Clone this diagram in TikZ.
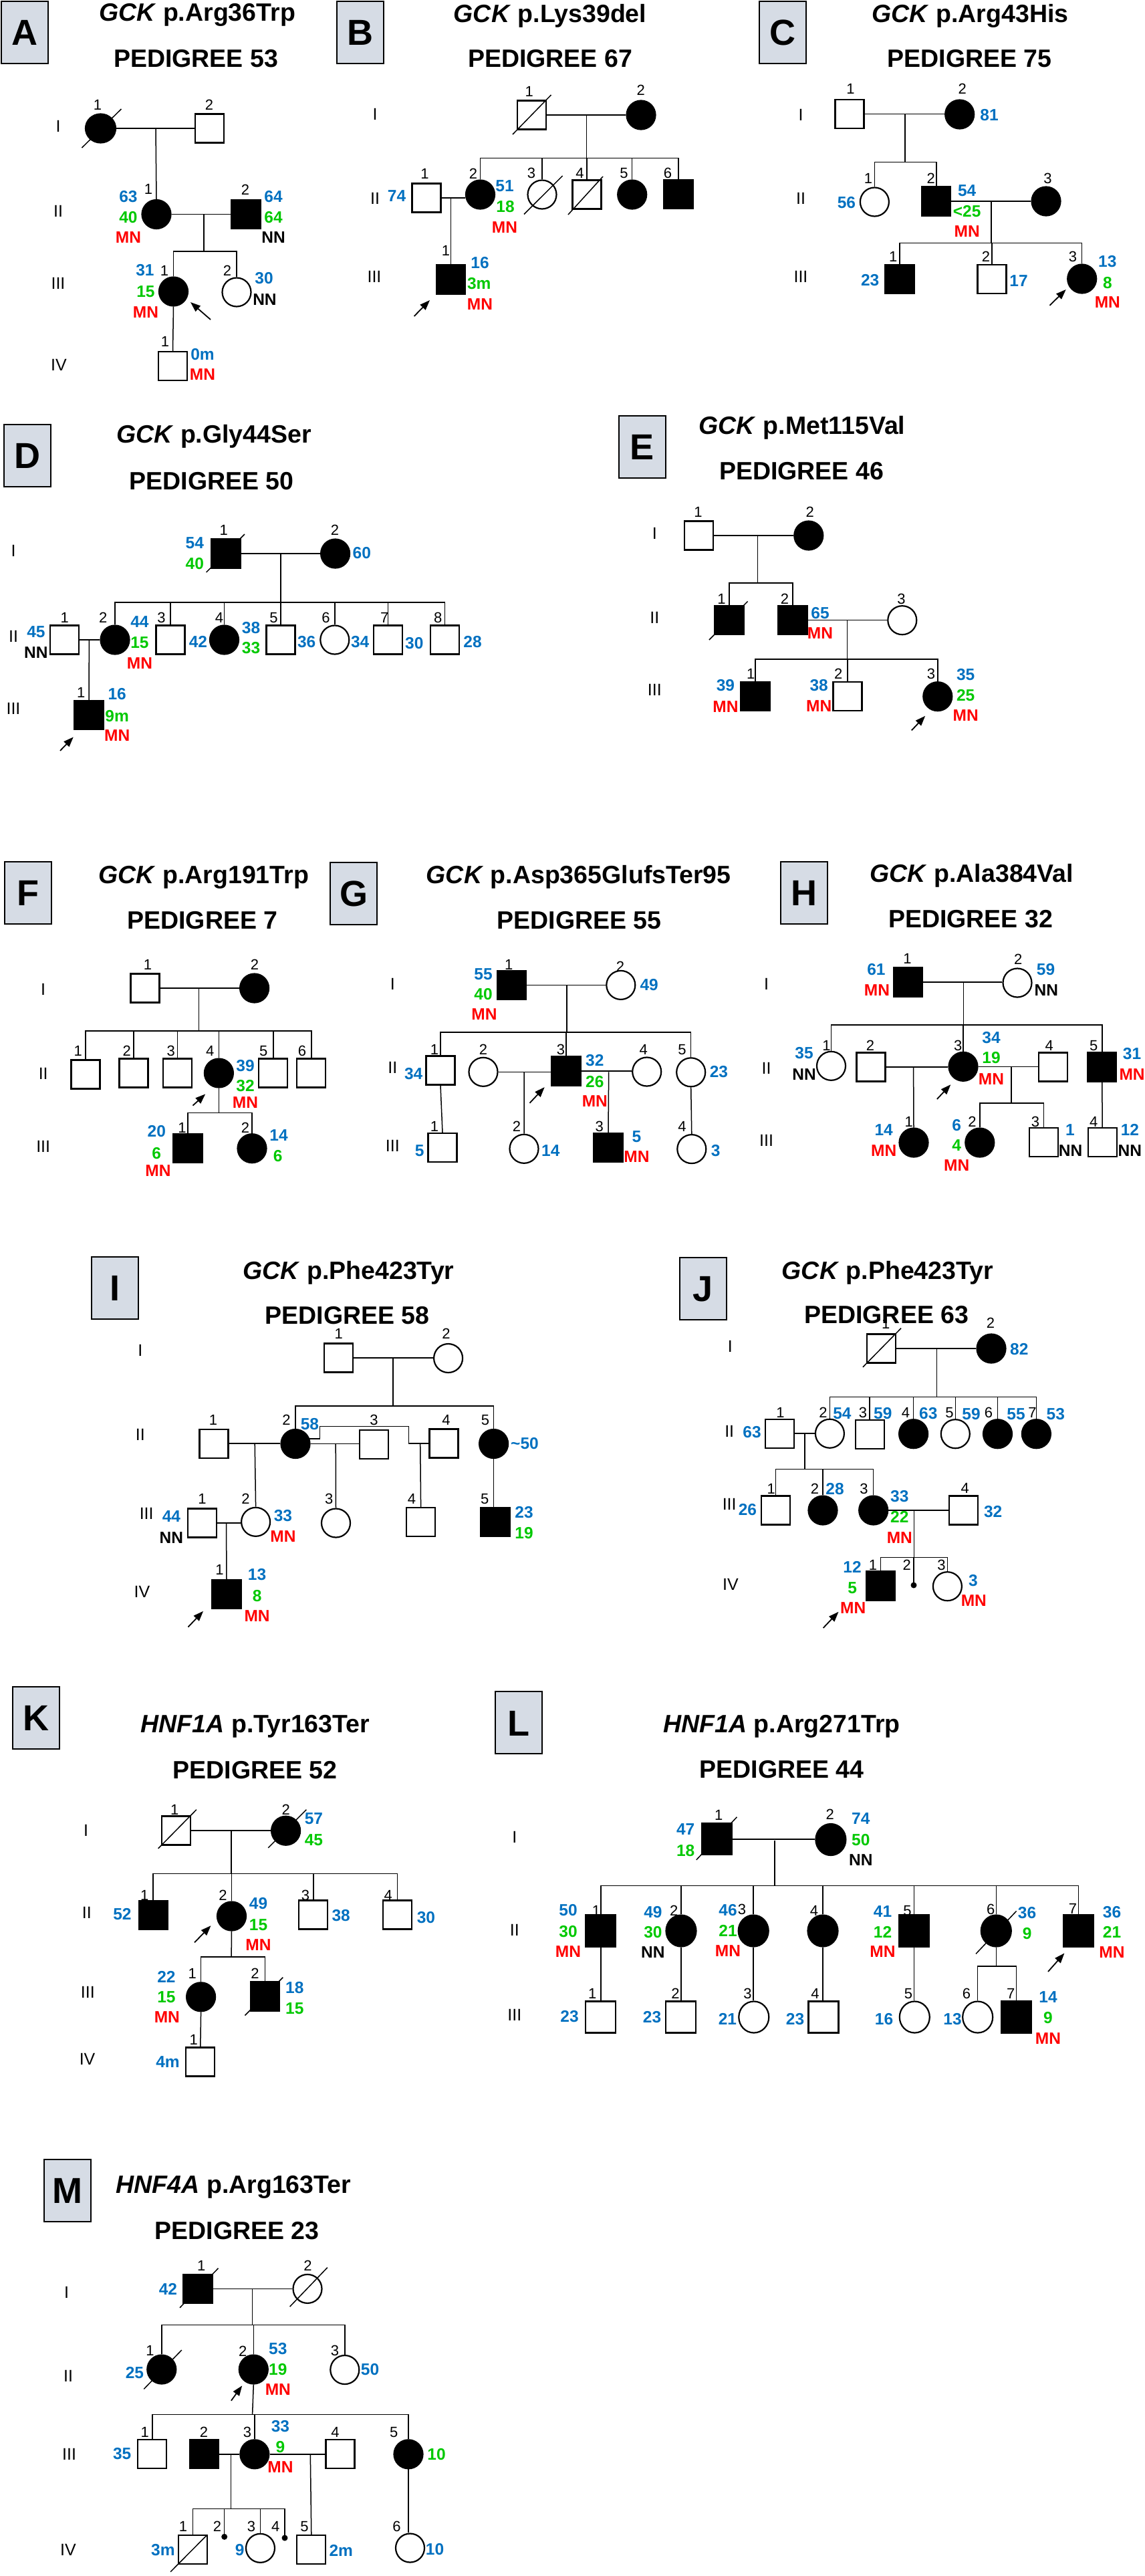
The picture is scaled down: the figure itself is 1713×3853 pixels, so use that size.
\documentclass[tikz,border=0pt]{standalone}
\usepackage{fontspec}
\setmainfont{Liberation Sans}
\usetikzlibrary{shapes.geometric,arrows.meta}
\definecolor{mblue}{RGB}{0,112,192}
\definecolor{mgreen}{RGB}{0,200,0}
\definecolor{mred}{RGB}{255,0,0}
\definecolor{boxgray}{RGB}{214,220,229}
\tikzset{
  sq/.style={draw,line width=2.2pt,fill=white,minimum width=43pt,minimum height=43pt,inner sep=0pt},
  sqa/.style={sq,fill=black},
  ci/.style={ellipse,draw,line width=2.2pt,fill=white,minimum width=43pt,minimum height=43pt,inner sep=0pt},
  cia/.style={ci,fill=black},
  sab/.style={circle,fill=black,minimum size=9pt,inner sep=0pt},
  ln/.style={line width=1.5pt},
  slash/.style={line width=1.5pt},
  pro/.style={line width=1.8pt,-{Triangle[length=15pt,width=11pt]}},
  nr/.style={inner sep=0pt,font=\fontsize{22}{22}\selectfont,text height=16pt,text depth=0pt},
  gen/.style={inner sep=0pt,font=\fontsize{25}{25}\selectfont,text height=18pt,text depth=0pt},
  vb/.style={inner sep=0pt,font=\bfseries\fontsize{24.5}{24.5}\selectfont,text height=17.5pt,text depth=0pt,text=mblue},
  vg/.style={vb,text=mgreen},
  vr/.style={vb,text=mred},
  vk/.style={vb,text=black},
  ttl/.style={inner sep=0pt,font=\bfseries\fontsize{37.5}{37.5}\selectfont,text height=27pt,text depth=0pt},
  lbox/.style={draw,line width=2pt,fill=boxgray,minimum width=70pt,minimum height=93pt,inner sep=0pt,text height=38.5pt,text depth=0pt,font=\bfseries\fontsize{54}{54}\selectfont},
}
\begin{document}
\begin{tikzpicture}[x=1pt,y=-1pt]
\useasboundingbox (0,0) rectangle (1713,3853);

\node[lbox] (boxA) at (37,48.5) {A};
\node[ttl] (tA1) at (295,18.4) {\textit{GCK} p.Arg36Trp};
\node[ttl] (tA2) at (293,87) {PEDIGREE 53};
\node[gen] (aG1) at (87,188) {I};
\node[gen] (aG2) at (87,315) {II};
\node[gen] (aG3) at (87,423) {III};
\node[gen] (aG4) at (88,545) {IV};
\node[cia,minimum width=45pt] (aI1) at (150.5,192) {};
\node[sq] (aI2) at (313.5,192) {};
\node[cia] (aII1) at (234,320.5) {};
\node[sqa] (aII2) at (368,320.5) {};
\node[cia] (aIII1) at (259.5,436) {};
\node[ci] (aIII2) at (354,437) {};
\node[sq] (aIV1) at (258.5,547.5) {};
\node[nr] (aI1n) at (146,156) {1};
\node[nr] (aI2n) at (313,156) {2};
\node[nr] (aII1n) at (222,282) {1};
\node[nr] (aII2n) at (367,283) {2};
\node[nr] (aIII1n) at (246,404) {1};
\node[nr] (aIII2n) at (340,404) {2};
\node[nr] (aIV1n) at (247,510) {1};
\node[vb] (aII1b) at (192,294) {63};
\node[vg] (aII1g) at (192,325) {40};
\node[vr] (aII1r) at (192,355) {MN};
\node[vb] (aII2b) at (409,294) {64};
\node[vg] (aII2g) at (409,325) {64};
\node[vk] (aII2k) at (409,355) {NN};
\node[vb] (aIII1b) at (217,404) {31};
\node[vg] (aIII1g) at (218,436) {15};
\node[vr] (aIII1r) at (218,467) {MN};
\node[vb] (aIII2b) at (395,416) {30};
\node[vk] (aIII2k) at (396,448) {NN};
\node[vb] (aIV1b) at (303,530) {0m};
\node[vr] (aIV1r) at (303,560) {MN};
\coordinate (aM1) at (233,192);
\coordinate (aM2) at (305,320.5);
\coordinate (aS2) at (305,376);
\coordinate (aP0) at (315,478);
\coordinate (aP1) at (285,452);
\draw[slash] (aI1.center) +(-28,29) -- +(31,-29);
\draw[ln] (aI1.east) -- (aI1.east -| aI2.west);
\draw[ln] (aM1) -- (aII1.north);
\draw[ln] (aII1.east) -- (aII1.east -| aII2.west);
\draw[ln] (aM2) -- (aS2);
\draw[ln] (aIII1.north) |- (aS2) -| (aIII2.north);
\draw[ln] (aIII1.south) -- (aIV1.north);
\draw[pro] (aP0) -- (aP1);

\node[lbox] (boxB) at (539,48) {B};
\node[ttl] (tB1) at (823,19.5) {\textit{GCK} p.Lys39del};
\node[ttl] (tB2) at (823,87) {PEDIGREE 67};
\node[gen] (bG1) at (561,170) {I};
\node[gen] (bG2) at (561,296) {II};
\node[gen] (bG3) at (560,413) {III};
\node[sq] (bI1) at (795.5,172) {};
\node[cia] (bI2) at (959,172) {};
\node[sq] (bII1) at (638,296) {};
\node[cia] (bII2) at (718.5,291) {};
\node[ci] (bII3) at (811,291) {};
\node[sq] (bII4) at (878,291) {};
\node[cia] (bII5) at (945.7,291) {};
\node[sqa] (bII6) at (1015,290.5) {};
\node[sqa] (bIII1) at (674.7,418) {};
\node[nr] (bI1n) at (791.7,136) {1};
\node[nr] (bI2n) at (958.7,134.5) {2};
\node[nr] (bII1n) at (635.6,259.4) {1};
\node[nr] (bII2n) at (708,259) {2};
\node[nr] (bII3n) at (795,258.5) {3};
\node[nr] (bII4n) at (867.6,258.5) {4};
\node[nr] (bII5n) at (933.5,258.5) {5};
\node[nr] (bII6n) at (999,258.5) {6};
\node[nr] (bIII1n) at (667,374) {1};
\node[vb] (bII1b) at (593.6,292.5) {74};
\node[vb] (bII2b) at (755,277.8) {51};
\node[vg] (bII2g) at (756,308.5) {18};
\node[vr] (bII2r) at (755,339.8) {MN};
\node[vb] (bIII1b) at (718,392.6) {16};
\node[vg] (bIII1g) at (716.7,423.3) {3m};
\node[vr] (bIII1r) at (718,454.5) {MN};
\coordinate (bM1) at (877.6,172);
\coordinate (bS1) at (877.6,236.5);
\coordinate (bM2) at (674.7,296);
\coordinate (bP0) at (619.6,473);
\coordinate (bP1) at (643,449);
\draw[slash] (bI1.center) +(-28.5,29) -- +(29,-30);
\draw[slash] (bII3.center) +(-27,29.5) -- +(30.6,-28);
\draw[slash] (bII4.center) +(-28,30) -- +(24,-27);
\draw[ln] (bI1.east) -- (bI1.east -| bI2.west);
\draw[ln] (bM1) -- (bS1);
\draw[ln] (bII2.north) |- (bS1) -| (bII6.north);
\foreach \p in {bII3,bII4,bII5} \draw[ln] (\p.north) -- (\p.north |- bS1);
\draw[ln] (bII1.east) -- (bII1.east -| bII2.west);
\draw[ln] (bM2) -- (bIII1.north);
\draw[pro] (bP0) -- (bP1);

\node[lbox] (boxC) at (1171,48.5) {C};
\node[ttl] (tC1) at (1451.5,19.5) {\textit{GCK} p.Arg43His};
\node[ttl] (tC2) at (1450.6,87) {PEDIGREE 75};
\node[gen] (cG1) at (1198,171) {I};
\node[gen] (cG2) at (1198,296) {II};
\node[gen] (cG3) at (1198,413) {III};
\node[sq] (cI1) at (1271,170.5) {};
\node[cia] (cI2) at (1435.7,171) {};
\node[ci] (cII1) at (1308.4,302) {};
\node[sqa] (cII2) at (1400.8,301) {};
\node[cia] (cII3) at (1565,301) {};
\node[sqa] (cIII1) at (1346,417.6) {};
\node[sq] (cIII2) at (1484,417.6) {};
\node[cia] (cIII3) at (1618.7,417) {};
\node[nr] (cI1n) at (1272.4,132) {1};
\node[nr] (cI2n) at (1439.7,132) {2};
\node[nr] (cII1n) at (1299,266.3) {1};
\node[nr] (cII2n) at (1392.8,266) {2};
\node[nr] (cII3n) at (1567.5,266) {3};
\node[nr] (cIII1n) at (1336.3,383.4) {1};
\node[nr] (cIII2n) at (1475,383.4) {2};
\node[nr] (cIII3n) at (1605,383.4) {3};
\node[vb] (cI2b) at (1480,172) {81};
\node[vb] (cII1b) at (1266.4,303) {56};
\node[vb] (cII2b) at (1446.7,284.7) {54};
\node[vg] (cII2g) at (1446.7,316) {<25};
\node[vr] (cII2r) at (1446.7,345.7) {MN};
\node[vb] (cIII1b) at (1301.7,418.7) {23};
\node[vb] (cIII2b) at (1524,420) {17};
\node[vb] (cIII3b) at (1656.8,391) {13};
\node[vg] (cIII3g) at (1656.8,422.4) {8};
\node[vr] (cIII3r) at (1656.8,452) {MN};
\coordinate (cM1) at (1353.8,171);
\coordinate (cS1) at (1353.8,242.4);
\coordinate (cM2) at (1483.2,301);
\coordinate (cS2) at (1483.2,363.6);
\coordinate (cP0) at (1570.5,456.8);
\coordinate (cP1) at (1594.7,433);
\draw[ln] (cI1.east) -- (cI1.east -| cI2.west);
\draw[ln] (cM1) -- (cS1);
\draw[ln] (cII1.north) |- (cS1) -| (cII2.north);
\draw[ln] (cII2.east) -- (cII2.east -| cII3.west);
\draw[ln] (cM2) -- (cS2);
\draw[ln] (cIII1.north) |- (cS2) -| (cIII3.north);
\draw[ln] (cIII2.north) -- (cIII2.north |- cS2);
\draw[pro] (cP0) -- (cP1);

\node[lbox] (boxD) at (40.5,681.5) {D};
\node[ttl] (tD1) at (320,648.5) {\textit{GCK} p.Gly44Ser};
\node[ttl] (tD2) at (316.5,718.8) {PEDIGREE 50};
\node[gen] (dG1) at (20,823.6) {I};
\node[gen] (dG2) at (20,951.5) {II};
\node[gen] (dG3) at (20,1059) {III};
\node[sqa] (dI1) at (338,828) {};
\node[cia] (dI2) at (501.6,828) {};
\node[sq] (dII1) at (96.8,957) {};
\node[cia] (dII2) at (172,957) {};
\node[sq] (dII3) at (255,957) {};
\node[cia] (dII4) at (335.5,957) {};
\node[sq] (dII5) at (420,957) {};
\node[ci] (dII6) at (500.8,957) {};
\node[sq] (dII7) at (580.5,957) {};
\node[sq] (dII8) at (665.5,957) {};
\node[sqa] (dIII1) at (133,1069.6) {};
\node[nr] (dI1n) at (334.7,792.4) {1};
\node[nr] (dI2n) at (501,792.4) {2};
\node[nr] (dII1n) at (96.8,923.3) {1};
\node[nr] (dII2n) at (154.3,923.3) {2};
\node[nr] (dII3n) at (241.6,923.3) {3};
\node[nr] (dII4n) at (328,923.3) {4};
\node[nr] (dII5n) at (409.5,923.3) {5};
\node[nr] (dII6n) at (487.4,923.3) {6};
\node[nr] (dII7n) at (575.3,923.3) {7};
\node[nr] (dII8n) at (655.3,923.3) {8};
\node[nr] (dIII1n) at (121.3,1035.2) {1};
\node[vb] (dI1b) at (291.3,812) {54};
\node[vg] (dI1g) at (291.3,843) {40};
\node[vb] (dI2b) at (541.3,826.6) {60};
\node[vb] (dII1b) at (53.9,945) {45};
\node[vk] (dII1k) at (53.9,975.4) {NN};
\node[vb] (dII2b) at (209,929.8) {44};
\node[vg] (dII2g) at (209,961) {15};
\node[vr] (dII2r) at (209,991.4) {MN};
\node[vb] (dII3b) at (296.5,959.3) {42};
\node[vb] (dII4b) at (375.5,938.5) {38};
\node[vg] (dII4g) at (375.5,968.9) {33};
\node[vb] (dII5b) at (458.7,960.2) {36};
\node[vb] (dII6b) at (538.7,960.2) {34};
\node[vb] (dII7b) at (619.8,961.5) {30};
\node[vb] (dII8b) at (707.1,960.2) {28};
\node[vb] (dIII1b) at (175.2,1038.2) {16};
\node[vg] (dIII1g) at (175.2,1070.8) {9m};
\node[vr] (dIII1r) at (175.2,1099.8) {MN};
\coordinate (dM1) at (420,828);
\coordinate (dS1) at (420,900.8);
\coordinate (dM2) at (133.4,957);
\coordinate (dP0) at (90,1122.8);
\coordinate (dP1) at (109.8,1102.4);
\draw[slash] (dI1.center) +(-29.4,28) -- +(28,-29);
\draw[ln] (dI1.east) -- (dI1.east -| dI2.west);
\draw[ln] (dM1) -- (dS1);
\draw[ln] (dII2.north) |- (dS1) -| (dII8.north);
\foreach \p in {dII3,dII4,dII5,dII6,dII7} \draw[ln] (\p.north) -- (\p.north |- dS1);
\draw[ln] (dII1.east) -- (dII1.east -| dII2.west);
\draw[ln] (dM2) -- (dIII1.north);
\draw[pro] (dP0) -- (dP1);

\node[lbox] (boxE) at (960.5,668.5) {E};
\node[ttl] (tE1) at (1200,636) {\textit{GCK} p.Met115Val};
\node[ttl] (tE2) at (1199,704) {PEDIGREE 46};
\node[gen] (eG1) at (979.4,797.6) {I};
\node[gen] (eG2) at (979.4,923.3) {II};
\node[gen] (eG3) at (979.4,1031.7) {III};
\node[sq] (eI1) at (1045.5,801) {};
\node[cia] (eI2) at (1209.8,801) {};
\node[sqa] (eII1) at (1091,927.7) {};
\node[sqa] (eII2) at (1186,927.7) {};
\node[ci] (eII3) at (1349.8,927.7) {};
\node[sqa] (eIII1) at (1130,1041.7) {};
\node[sq] (eIII2) at (1268,1041.7) {};
\node[cia] (eIII3) at (1402.8,1041.7) {};
\node[nr] (eI1n) at (1044.6,765) {1};
\node[nr] (eI2n) at (1211.8,765) {2};
\node[nr] (eII1n) at (1079.6,895) {1};
\node[nr] (eII2n) at (1173.9,895) {2};
\node[nr] (eII3n) at (1348.6,895) {3};
\node[nr] (eIII1n) at (1123.2,1007.9) {1};
\node[nr] (eIII2n) at (1254.3,1007.9) {2};
\node[nr] (eIII3n) at (1392.9,1007.9) {3};
\node[vb] (eII2b) at (1227,916.8) {65};
\node[vr] (eII2r) at (1227,947.2) {MN};
\node[vb] (eIII1b) at (1085.4,1025.2) {39};
\node[vr] (eIII1r) at (1085.4,1056.9) {MN};
\node[vb] (eIII2b) at (1225.2,1024.4) {38};
\node[vr] (eIII2r) at (1225.2,1055.6) {MN};
\node[vb] (eIII3b) at (1444.7,1008.8) {35};
\node[vg] (eIII3g) at (1444.7,1039.5) {25};
\node[vr] (eIII3r) at (1444.7,1069.5) {MN};
\coordinate (eM1) at (1133.7,801);
\coordinate (eS1) at (1133.7,872.2);
\coordinate (eM2) at (1267.7,927.7);
\coordinate (eS2) at (1267.7,986.2);
\coordinate (eP0) at (1363.8,1092.4);
\coordinate (eP1) at (1384.2,1070.8);
\draw[slash] (eII1.center) +(-30,29.3) -- +(27.6,-28.2);
\draw[ln] (eI1.east) -- (eI1.east -| eI2.west);
\draw[ln] (eM1) -- (eS1);
\draw[ln] (eII1.north) |- (eS1) -| (eII2.north);
\draw[ln] (eII2.east) -- (eII2.east -| eII3.west);
\draw[ln] (eM2) -- (eS2);
\draw[ln] (eIII1.north) |- (eS2) -| (eIII3.north);
\draw[ln] (eIII2.north) -- (eIII2.north |- eS2);
\draw[pro] (eP0) -- (eP1);

\node[lbox] (boxF) at (42.3,1335.3) {F};
\node[ttl] (tF1) at (304.7,1308) {\textit{GCK} p.Arg191Trp};
\node[ttl] (tF2) at (303,1376) {PEDIGREE 7};
\node[gen] (fG1) at (64.7,1479.5) {I};
\node[gen] (fG2) at (64.7,1605.8) {II};
\node[gen] (fG3) at (64.7,1714.9) {III};
\node[sq] (fI1) at (217,1478) {};
\node[cia] (fI2) at (380.6,1478) {};
\node[sq] (fII1) at (128,1607) {};
\node[sq] (fII2) at (200,1605) {};
\node[sq] (fII3) at (265.6,1605) {};
\node[cia] (fII4) at (327.4,1605) {};
\node[sq] (fII5) at (408.8,1605) {};
\node[sq] (fII6) at (465.8,1605) {};
\node[sqa] (fIII1) at (281,1717.7) {};
\node[cia] (fIII2) at (377,1717.7) {};
\node[nr] (fI1n) at (221,1442.4) {1};
\node[nr] (fI2n) at (381,1442.4) {2};
\node[nr] (fII1n) at (116.8,1571.4) {1};
\node[nr] (fII2n) at (189.8,1571.4) {2};
\node[nr] (fII3n) at (255.8,1571.4) {3};
\node[nr] (fII4n) at (314.2,1571.4) {4};
\node[nr] (fII5n) at (394.2,1571.4) {5};
\node[nr] (fII6n) at (451.9,1571.4) {6};
\node[nr] (fIII1n) at (272.5,1686.2) {1};
\node[nr] (fIII2n) at (367,1686.2) {2};
\node[vb] (fII4b) at (367,1593.5) {39};
\node[vg] (fII4g) at (367,1624.2) {32};
\node[vr] (fII4r) at (367,1649) {MN};
\node[vb] (fIII1b) at (234.3,1691.9) {20};
\node[vg] (fIII1g) at (234.3,1724.4) {6};
\node[vr] (fIII1r) at (236.4,1750.4) {MN};
\node[vb] (fIII2b) at (417,1697.6) {14};
\node[vg] (fIII2g) at (415.7,1729) {6};
\coordinate (fM1) at (297.5,1478);
\coordinate (fS1) at (297.5,1542);
\coordinate (fS2) at (327.4,1664.3);
\coordinate (fP0) at (288.5,1653.6);
\coordinate (fP1) at (307.3,1636.4);
\draw[ln] (fI1.east) -- (fI1.east -| fI2.west);
\draw[ln] (fM1) -- (fS1);
\draw[ln] (fII1.north) |- (fS1) -| (fII6.north);
\foreach \p in {fII2,fII3,fII4,fII5} \draw[ln] (\p.north) -- (\p.north |- fS1);
\draw[ln] (fII4.south) -- (fS2);
\draw[ln] (fIII1.north) |- (fS2) -| (fIII2.north);
\draw[pro] (fP0) -- (fP1);

\node[lbox] (boxG) at (529,1336.5) {G};
\node[ttl] (tG1) at (865.7,1308) {\textit{GCK} p.Asp365GlufsTer95};
\node[ttl] (tG2) at (866.5,1376) {PEDIGREE 55};
\node[gen] (gG1) at (587.4,1471.8) {I};
\node[gen] (gG2) at (587.4,1596.2) {II};
\node[gen] (gG3) at (587.4,1713) {III};
\node[sqa] (gI1) at (765.4,1473.4) {};
\node[ci] (gI2) at (928.8,1473.4) {};
\node[sq] (gII1) at (659,1601) {};
\node[ci] (gII2) at (723,1603.3) {};
\node[sqa] (gII3) at (847,1602) {};
\node[ci] (gII4) at (967.7,1603) {};
\node[ci] (gII5) at (1033.7,1603.8) {};
\node[sq] (gIII1) at (662,1716.5) {};
\node[ci] (gIII2) at (784,1718.3) {};
\node[sqa] (gIII3) at (910,1716.5) {};
\node[ci] (gIII4) at (1034.8,1718.6) {};
\node[nr] (gI1n) at (761.2,1442.4) {1};
\node[nr] (gI2n) at (928,1445) {2};
\node[nr] (gII1n) at (650,1569.4) {1};
\node[nr] (gII2n) at (723,1569.4) {2};
\node[nr] (gII3n) at (839,1569.4) {3};
\node[nr] (gII4n) at (962.8,1569.4) {4};
\node[nr] (gII5n) at (1020.5,1569.4) {5};
\node[nr] (gIII1n) at (650,1684.2) {1};
\node[nr] (gIII2n) at (773,1684.2) {2};
\node[nr] (gIII3n) at (896.8,1684.2) {3};
\node[nr] (gIII4n) at (1020.5,1684.2) {4};
\node[vb] (gI1b) at (723,1456.5) {55};
\node[vg] (gI1g) at (723,1486.4) {40};
\node[vr] (gI1r) at (724.4,1517) {MN};
\node[vb] (gI2b) at (971.2,1473) {49};
\node[vb] (gII1b) at (618.7,1605.8) {34};
\node[vb] (gII3b) at (889.8,1585.9) {32};
\node[vg] (gII3g) at (889.8,1617.3) {26};
\node[vr] (gII3r) at (889.8,1646.7) {MN};
\node[vb] (gII5b) at (1075.4,1603) {23};
\node[vb] (gIII1b) at (627.7,1720.6) {5};
\node[vb] (gIII2b) at (823.8,1720.6) {14};
\node[vb] (gIII3b) at (952.4,1699.6) {5};
\node[vr] (gIII3r) at (952.4,1730.2) {MN};
\node[vb] (gIII4b) at (1070.6,1720.6) {3};
\coordinate (gM1) at (848.1,1473.4);
\coordinate (gS1) at (848.1,1543.8);
\coordinate (gM2) at (784.2,1603.3);
\coordinate (gM3) at (910.7,1603.3);
\coordinate (gP0) at (792.5,1649.8);
\coordinate (gP1) at (814.7,1626.1);
\draw[ln] (gI1.east) -- (gI1.east -| gI2.west);
\draw[ln] (gM1) -- (gS1);
\draw[ln] (gII1.north) |- (gS1) -| (gII5.north);
\draw[ln] (gII3.north) -- (gII3.north |- gS1);
\draw[ln] (gII2.east) -- (gII2.east -| gII3.west);
\draw[ln] (gII3.east) -- (gII3.east -| gII4.west);
\draw[ln] (gII1.south) -- (gIII1.north);
\draw[ln] (gM2) -- (gIII2.north);
\draw[ln] (gM3) -- (gIII3.north);
\draw[ln] (gII5.south) -- (gIII4.north);
\draw[pro] (gP0) -- (gP1);

\node[lbox] (boxH) at (1202.5,1335.5) {H};
\node[ttl] (tH1) at (1453.7,1306) {\textit{GCK} p.Ala384Val};
\node[ttl] (tH2) at (1452,1374) {PEDIGREE 32};
\node[gen] (hG1) at (1146.6,1471) {I};
\node[gen] (hG2) at (1146.6,1597.4) {II};
\node[gen] (hG3) at (1146.6,1705.3) {III};
\node[sqa] (hI1) at (1358.2,1469) {};
\node[ci] (hI2) at (1522,1470) {};
\node[ci] (hII1) at (1243.5,1594.3) {};
\node[sq] (hII2) at (1303,1596) {};
\node[cia] (hII3) at (1441,1595.3) {};
\node[sq] (hII4) at (1575.6,1596) {};
\node[sqa] (hII5) at (1648.8,1596) {};
\node[cia] (hIII1) at (1367,1709) {};
\node[cia] (hIII2) at (1465.8,1709) {};
\node[sq] (hIII3) at (1561.4,1708.8) {};
\node[sq] (hIII4) at (1649.2,1708.8) {};
\node[nr] (hI1n) at (1357.4,1433.6) {1};
\node[nr] (hI2n) at (1523.3,1434.7) {2};
\node[nr] (hII1n) at (1236.6,1563) {1};
\node[nr] (hII2n) at (1302,1563) {2};
\node[nr] (hII3n) at (1433.3,1563) {3};
\node[nr] (hII4n) at (1569.7,1563) {4};
\node[nr] (hII5n) at (1636.3,1563) {5};
\node[nr] (hIII1n) at (1359.8,1677.7) {1};
\node[nr] (hIII2n) at (1454.6,1677.7) {2};
\node[nr] (hIII3n) at (1549,1677.7) {3};
\node[nr] (hIII4n) at (1636.3,1677.7) {4};
\node[vb] (hI1b) at (1310.9,1450) {61};
\node[vr] (hI1r) at (1312,1480.3) {MN};
\node[vb] (hI2b) at (1564.5,1450) {59};
\node[vk] (hI2k) at (1565.3,1480.3) {NN};
\node[vb] (hII1b) at (1203,1575.2) {35};
\node[vk] (hII1k) at (1203,1606.6) {NN};
\node[vb] (hII3b) at (1483,1552.2) {34};
\node[vg] (hII3g) at (1483,1582) {19};
\node[vr] (hII3r) at (1483,1613.4) {MN};
\node[vb] (hII5b) at (1693.6,1576) {31};
\node[vr] (hII5r) at (1693.6,1606.6) {MN};
\node[vb] (hIII1b) at (1322.2,1690) {14};
\node[vr] (hIII1r) at (1322.2,1720.6) {MN};
\node[vb] (hIII2b) at (1431.2,1682.3) {6};
\node[vg] (hIII2g) at (1431.2,1713) {4};
\node[vr] (hIII2r) at (1431.2,1742.8) {MN};
\node[vb] (hIII3b) at (1600.8,1690) {1};
\node[vk] (hIII3k) at (1601.6,1720.6) {NN};
\node[vb] (hIII4b) at (1690.4,1690) {12};
\node[vk] (hIII4k) at (1690.4,1720.6) {NN};
\coordinate (hM1) at (1441.3,1470);
\coordinate (hS1) at (1441.3,1533);
\coordinate (hM2) at (1366.6,1595.5);
\coordinate (hM3) at (1513.2,1595.5);
\coordinate (hS3) at (1513.2,1649.8);
\coordinate (hP0) at (1401.8,1644);
\coordinate (hP1) at (1422.3,1622.2);
\draw[ln] (hI1.east) -- (hI1.east -| hI2.west);
\draw[ln] (hM1) -- (hS1);
\draw[ln] (hII1.north) |- (hS1) -| (hII5.north);
\draw[ln] (hII3.north) -- (hII3.north |- hS1);
\draw[ln] (hII2.east) -- (hII2.east -| hII3.west);
\draw[ln] (hII3.east) -- (hII3.east -| hII4.west);
\draw[ln] (hM2) -- (hIII1.north);
\draw[ln] (hM3) -- (hS3);
\draw[ln] (hIII2.north) |- (hS3) -| (hIII3.north);
\draw[ln] (hII5.south) -- (hIII4.north);
\draw[pro] (hP0) -- (hP1);

\node[lbox] (boxI) at (172.4,1926.3) {I};
\node[ttl] (tI1) at (521.4,1899.6) {\textit{GCK} p.Phe423Tyr};
\node[ttl] (tI2) at (519.6,1966.5) {PEDIGREE 58};
\node[gen] (iG1) at (209.8,2019.1) {I};
\node[gen] (iG2) at (209.8,2145.7) {II};
\node[gen] (iG3) at (219.2,2263) {III};
\node[gen] (iG4) at (212.5,2380.7) {IV};
\node[sq] (iI1) at (506.4,2031) {};
\node[ci] (iI2) at (670.6,2031.5) {};
\node[sq] (iII1) at (320,2159.2) {};
\node[cia] (iII2) at (442,2159.5) {};
\node[sq] (iII3) at (559.6,2160.7) {};
\node[sq] (iII4) at (664,2159) {};
\node[cia] (iII5) at (738.6,2159.5) {};
\node[sq] (iIII1) at (302.7,2278) {};
\node[ci] (iIII2) at (382.6,2276.3) {};
\node[ci] (iIII3) at (502.5,2278) {};
\node[sq] (iIII4) at (629.6,2276.8) {};
\node[sqa] (iIII5) at (741,2276.3) {};
\node[sqa] (iIV1) at (339,2384.6) {};
\node[nr] (iI1n) at (506.7,1994) {1};
\node[nr] (iI2n) at (667.6,1994) {2};
\node[nr] (iII1n) at (319,2123.8) {1};
\node[nr] (iII2n) at (428.4,2123.8) {2};
\node[nr] (iII3n) at (559.4,2123.8) {3};
\node[nr] (iII4n) at (667.6,2123.8) {4};
\node[nr] (iII5n) at (725.9,2123.8) {5};
\node[nr] (iIII1n) at (302.4,2241.1) {1};
\node[nr] (iIII2n) at (367.4,2241.1) {2};
\node[nr] (iIII3n) at (492.2,2241.1) {3};
\node[nr] (iIII4n) at (616,2241.1) {4};
\node[nr] (iIII5n) at (725.3,2241.1) {5};
\node[nr] (iIV1n) at (328.5,2347.8) {1};
\node[vb] (iII2b) at (463.4,2129.7) {58};
\node[vb] (iII5b) at (785,2158.7) {\textasciitilde 50};
\node[vb] (iIII1b) at (256.4,2267.8) {44};
\node[vk] (iIII1k) at (256.4,2299.3) {NN};
\node[vb] (iIII2b) at (423.4,2266.4) {33};
\node[vr] (iIII2r) at (423.4,2297.9) {MN};
\node[vb] (iIII5b) at (784.1,2262) {23};
\node[vg] (iIII5g) at (784.1,2293) {19};
\node[vb] (iIV1b) at (384.6,2355) {13};
\node[vg] (iIV1g) at (384.6,2386.6) {8};
\node[vr] (iIV1r) at (384.6,2416.6) {MN};
\coordinate (iM1) at (588.2,2031.5);
\coordinate (iS1) at (588.2,2103);
\coordinate (iM2) at (381.2,2159.2);
\coordinate (iM3) at (502.2,2159.5);
\coordinate (iJ1) at (478.4,2133.5);
\coordinate (iJ2) at (611.5,2159);
\coordinate (iM4) at (628.7,2159);
\coordinate (iM5) at (338.5,2278);
\coordinate (iP0) at (281.4,2433.6);
\coordinate (iP1) at (304.1,2409.8);
\draw[ln] (iI1.east) -- (iI1.east -| iI2.west);
\draw[ln] (iM1) -- (iS1);
\draw[ln] (iII2.north) |- (iS1) -| (iII5.north);
\draw[ln] (iII1.east) -- (iII1.east -| iII2.west);
\draw[ln] (iII2.east) -- (iII2.east -| iII3.west);
\draw[ln] (iII2.20) -| (iJ1) -| (iJ2) -- (iII4.west);
\draw[ln] (iM2) -- (iIII2.north);
\draw[ln] (iM3) -- (iIII3.north);
\draw[ln] (iM4) -- (iIII4.north);
\draw[ln] (iII5.south) -- (iII5.south |- iIII5.north);
\draw[ln] (iIII1.east) -- (iIII1.east -| iIII2.west);
\draw[ln] (iM5) -- (iIV1.north);
\draw[pro] (iP0) -- (iP1);

\node[lbox] (boxJ) at (1052,1927.5) {J};
\node[ttl] (tJ1) at (1327.9,1899.6) {\textit{GCK} p.Phe423Tyr};
\node[ttl] (tJ2) at (1326.2,1966) {PEDIGREE 63};
\node[gen] (jG1) at (1092.3,2013.3) {I};
\node[gen] (jG2) at (1091.2,2140.3) {II};
\node[gen] (jG3) at (1091.2,2249.4) {III};
\node[gen] (jG4) at (1092.9,2369.6) {IV};
\node[sq] (jI1) at (1318.4,2017) {};
\node[cia] (jI2) at (1483,2017) {};
\node[sq] (jII1) at (1166.5,2144.2) {};
\node[ci] (jII2) at (1241.4,2144.2) {};
\node[sq] (jII3) at (1301.2,2145.4) {};
\node[cia] (jII4) at (1366.6,2144.7) {};
\node[ci] (jII5) at (1429.3,2144.7) {};
\node[cia] (jII6) at (1492.5,2144.7) {};
\node[cia] (jII7) at (1550.4,2144.7) {};
\node[sq] (jIII1) at (1160.3,2259) {};
\node[cia] (jIII2) at (1231,2259) {};
\node[cia] (jIII3) at (1306.7,2259) {};
\node[sq] (jIII4) at (1441.4,2259) {};
\node[sqa] (jIV1) at (1317.5,2372) {};
\node[sab] (jIV2) at (1367,2371) {};
\node[ci] (jIV3) at (1417.4,2372.7) {};
\node[nr] (jI1n) at (1325.2,1979.4) {1};
\node[nr] (jI2n) at (1481.9,1978.4) {2};
\node[nr] (jII1n) at (1167.4,2112.7) {1};
\node[nr] (jII2n) at (1231.6,2112.7) {2};
\node[nr] (jII3n) at (1290.9,2112.7) {3};
\node[nr] (jII4n) at (1355.1,2112.7) {4};
\node[nr] (jII5n) at (1420.4,2112.7) {5};
\node[nr] (jII6n) at (1479.1,2112.7) {6};
\node[nr] (jII7n) at (1544.4,2112.7) {7};
\node[nr] (jIII1n) at (1153.8,2226.6) {1};
\node[nr] (jIII2n) at (1219,2226.6) {2};
\node[nr] (jIII3n) at (1292.5,2226.6) {3};
\node[nr] (jIII4n) at (1443.8,2225.6) {4};
\node[nr] (jIV1n) at (1306,2340.5) {1};
\node[nr] (jIV2n) at (1356.7,2340.5) {2};
\node[nr] (jIV3n) at (1408.4,2340.5) {3};
\node[vb] (jI2b) at (1524.8,2018.2) {82};
\node[vb] (jII1b) at (1125,2141.8) {63};
\node[vb] (jII2b) at (1259.9,2114.1) {54};
\node[vb] (jII3b) at (1320.8,2114.1) {59};
\node[vb] (jII4b) at (1388.8,2114.1) {63};
\node[vb] (jII5b) at (1453,2115) {59};
\node[vb] (jII6b) at (1520,2115) {55};
\node[vb] (jII7b) at (1579.3,2115) {53};
\node[vb] (jIII1b) at (1118.4,2258.1) {26};
\node[vb] (jIII2b) at (1249,2226.6) {28};
\node[vb] (jIII3b) at (1345.8,2237.8) {33};
\node[vg] (jIII3g) at (1345.8,2268.8) {22};
\node[vr] (jIII3r) at (1345.8,2299.3) {MN};
\node[vb] (jIII4b) at (1485.7,2260.5) {32};
\node[vb] (jIV1b) at (1275.1,2343.9) {12};
\node[vg] (jIV1g) at (1275.1,2374.4) {5};
\node[vr] (jIV1r) at (1276.2,2404.5) {MN};
\node[vb] (jIV3b) at (1455.8,2363.3) {3};
\node[vr] (jIV3r) at (1456.8,2393.8) {MN};
\coordinate (jM1) at (1401.3,2017);
\coordinate (jS1) at (1401.3,2089.4);
\coordinate (jM2) at (1203.8,2144.2);
\coordinate (jS2) at (1203.8,2197.5);
\coordinate (jM3) at (1367.6,2259);
\coordinate (jS3) at (1367.6,2329.4);
\coordinate (jP0) at (1231.6,2435);
\coordinate (jP1) at (1254.5,2410.8);
\draw[slash] (jI1.center) +(-27.5,27.8) -- +(29.6,-30.3);
\draw[ln] (jI1.east) -- (jI1.east -| jI2.west);
\draw[ln] (jM1) -- (jS1);
\draw[ln] (jII2.north) |- (jS1) -| (jII7.north);
\foreach \p in {jII3,jII4,jII5,jII6} \draw[ln] (\p.north) -- (\p.north |- jS1);
\draw[ln] (jII1.east) -- (jII1.east -| jII2.west);
\draw[ln] (jM2) -- (jS2);
\draw[ln] (jIII1.north) |- (jS2) -| (jIII3.north);
\draw[ln] (jIII2.north) -- (jIII2.north |- jS2);
\draw[ln] (jIII3.east) -- (jIII3.east -| jIII4.west);
\draw[ln] (jM3) -- (jS3);
\draw[ln] (jIV1.north) |- (jS3) -| (jIV3.north);
\draw[ln] (jIV2.center) -- (jIV2.center |- jS3);
\draw[pro] (jP0) -- (jP1);

\node[lbox] (boxK) at (53.5,2569.5) {K};
\node[ttl] (tK1) at (382,2578) {\textit{HNF1A} p.Tyr163Ter};
\node[ttl] (tK2) at (381.5,2647) {PEDIGREE 52};
\node[gen] (kG1) at (128.6,2737.2) {I};
\node[gen] (kG2) at (129.8,2860.8) {II};
\node[gen] (kG3) at (131.4,2979) {III};
\node[gen] (kG4) at (130.6,3079.9) {IV};
\node[sq] (kI1) at (263.3,2738) {};
\node[cia] (kI2) at (427.6,2738.2) {};
\node[sqa] (kII1) at (229.2,2864.2) {};
\node[cia] (kII2) at (346.5,2866) {};
\node[sq] (kII3) at (468.8,2864) {};
\node[sq] (kII4) at (594.5,2864) {};
\node[cia] (kIII1) at (300.6,2986.8) {};
\node[sqa] (kIII2) at (396.5,2985.9) {};
\node[sq] (kIV1) at (299.8,3084) {};
\node[nr] (kI1n) at (261.2,2706.7) {1};
\node[nr] (kI2n) at (427.8,2706.7) {2};
\node[nr] (kII1n) at (216.3,2834.1) {1};
\node[nr] (kII2n) at (333.5,2834.1) {2};
\node[nr] (kII3n) at (457.1,2834.1) {3};
\node[nr] (kII4n) at (580.8,2834.1) {4};
\node[nr] (kIII1n) at (287.8,2951.4) {1};
\node[nr] (kIII2n) at (381.6,2951.4) {2};
\node[nr] (kIV1n) at (289.8,3050.8) {1};
\node[vb] (kI2b) at (469.4,2720.2) {57};
\node[vg] (kI2g) at (469.4,2751.3) {45};
\node[vb] (kII1b) at (182.9,2863.2) {52};
\node[vb] (kII2b) at (386.5,2847.2) {49};
\node[vg] (kII2g) at (386.5,2878.7) {15};
\node[vr] (kII2r) at (386.5,2908.8) {MN};
\node[vb] (kII3b) at (510.2,2865.2) {38};
\node[vb] (kII4b) at (637.4,2868) {30};
\node[vb] (kIII1b) at (249,2956.3) {22};
\node[vg] (kIII1g) at (249,2986.8) {15};
\node[vr] (kIII1r) at (249.8,3016.9) {MN};
\node[vb] (kIII2b) at (440.8,2972.3) {18};
\node[vg] (kIII2g) at (440.8,3003.3) {15};
\node[vb] (kIV1b) at (251,3083.8) {4m};
\coordinate (kM1) at (346.1,2738);
\coordinate (kS1) at (346.1,2802.6);
\coordinate (kS2) at (346.1,2927.2);
\coordinate (kP0) at (291,2905.4);
\coordinate (kP1) at (315.5,2880.2);
\draw[slash] (kI1.center) +(-26.6,26.8) -- +(30.6,-31.3);
\draw[slash] (kI2.center) +(-26.4,25.7) -- +(30.8,-31.5);
\draw[slash] (kIII2.center) +(-30,28.6) -- +(26.8,-28.2);
\draw[ln] (kI1.east) -- (kI1.east -| kI2.west);
\draw[ln] (kM1) -- (kS1);
\draw[ln] (kII1.north) |- (kS1) -| (kII4.north);
\foreach \p in {kII2,kII3} \draw[ln] (\p.north) -- (\p.north |- kS1);
\draw[ln] (kII2.south) -- (kS2);
\draw[ln] (kIII1.north) |- (kS2) -| (kIII2.north);
\draw[ln] (kIII1.south) -- (kIV1.north);
\draw[pro] (kP0) -- (kP1);

\begin{scope}[sq/.append style={minimum width=45pt,minimum height=47pt},ci/.append style={minimum width=45pt,minimum height=47pt}]
\node[lbox] (boxL) at (776,2576.8) {L};
\node[ttl] (tL1) at (1169.6,2578) {\textit{HNF1A} p.Arg271Trp};
\node[ttl] (tL2) at (1169.6,2646) {PEDIGREE 44};
\node[gen] (lG1) at (769.9,2747.9) {I};
\node[gen] (lG2) at (769.9,2886) {II};
\node[gen] (lG3) at (769.9,3013.5) {III};
\node[sqa] (lI1) at (1072.8,2750.8) {};
\node[cia] (lI2) at (1242.9,2751.5) {};
\node[sqa] (lII1) at (898.8,2888) {};
\node[cia] (lII2) at (1019,2888) {};
\node[cia] (lII3) at (1127.2,2888) {};
\node[cia] (lII4) at (1231,2888) {};
\node[sqa] (lII5) at (1367.6,2888) {};
\node[cia] (lII6) at (1490.3,2888) {};
\node[sqa] (lII7) at (1613.6,2888) {};
\node[sq] (lIII1) at (898.8,3017) {};
\node[sq] (lIII2) at (1018.3,3017) {};
\node[ci] (lIII3) at (1127.8,3017) {};
\node[sq] (lIII4) at (1232,3017) {};
\node[ci] (lIII5) at (1368.3,3017) {};
\node[ci] (lIII6) at (1462.7,3017) {};
\node[sqa] (lIII7) at (1520.3,3017) {};
\end{scope}
\node[nr] (lI1n) at (1075.2,2714.9) {1};
\node[nr] (lI2n) at (1241.8,2713.9) {2};
\node[nr] (lII1n) at (891.9,2857) {1};
\node[nr] (lII2n) at (1008.3,2857) {2};
\node[nr] (lII3n) at (1110,2855.5) {3};
\node[nr] (lII4n) at (1218,2857) {4};
\node[nr] (lII5n) at (1357.5,2857) {5};
\node[nr] (lII6n) at (1482.3,2855.5) {6};
\node[nr] (lII7n) at (1605,2854.5) {7};
\node[nr] (lIII1n) at (886.3,2981.5) {1};
\node[nr] (lIII2n) at (1010.4,2981.5) {2};
\node[nr] (lIII3n) at (1118.4,2981.5) {3};
\node[nr] (lIII4n) at (1219.5,2981.5) {4};
\node[nr] (lIII5n) at (1358.9,2981.5) {5};
\node[nr] (lIII6n) at (1446,2981.5) {6};
\node[nr] (lIII7n) at (1512.2,2981.5) {7};
\node[vb] (lI1b) at (1025.7,2735.7) {47};
\node[vg] (lI1g) at (1025.7,2767.3) {18};
\node[vb] (lI2b) at (1287.8,2719.7) {74};
\node[vg] (lI2g) at (1287.8,2751.7) {50};
\node[vk] (lI2k) at (1287.8,2781.8) {NN};
\node[vb] (lII1b) at (850,2857) {50};
\node[vg] (lII1g) at (850,2888.4) {30};
\node[vr] (lII1r) at (850,2918.5) {MN};
\node[vb] (lII2b) at (976.9,2859.4) {49};
\node[vg] (lII2g) at (976.9,2889.4) {30};
\node[vk] (lII2k) at (976.9,2920) {NN};
\node[vb] (lII3b) at (1089,2857) {46};
\node[vg] (lII3g) at (1089,2887.5) {21};
\node[vr] (lII3r) at (1089,2917.5) {MN};
\node[vb] (lII5b) at (1320.5,2858.4) {41};
\node[vg] (lII5g) at (1320.5,2889.4) {12};
\node[vr] (lII5r) at (1320.5,2918.5) {MN};
\node[vb] (lII6b) at (1536.6,2860.3) {36};
\node[vg] (lII6g) at (1536.6,2891.8) {9};
\node[vb] (lII7b) at (1663.5,2859.4) {36};
\node[vg] (lII7g) at (1663.5,2889.9) {21};
\node[vr] (lII7r) at (1663.5,2920) {MN};
\node[vb] (lIII1b) at (852.1,3016) {23};
\node[vb] (lIII2b) at (975.5,3017) {23};
\node[vb] (lIII3b) at (1088.4,3019.3) {21};
\node[vb] (lIII4b) at (1189.5,3019.3) {23};
\node[vb] (lIII5b) at (1322.6,3019.3) {16};
\node[vb] (lIII6b) at (1425.1,3019.3) {13};
\node[vb] (lIII7b) at (1568,2986.8) {14};
\node[vg] (lIII7g) at (1568,3017.9) {9};
\node[vr] (lIII7r) at (1568,3048.4) {MN};
\coordinate (lM1) at (1158.8,2752.7);
\coordinate (lS1) at (1158.8,2820.6);
\coordinate (lS6) at (1490.3,2940.8);
\coordinate (lP0) at (1568,2949);
\coordinate (lP1) at (1592.4,2921.4);
\draw[slash] (lI1.center) +(-31,31) -- +(29.6,-33);
\draw[slash] (lII6.center) +(-30.3,34.4) -- +(30.3,-29.6);
\draw[ln] (lI1.east) -- (lI1.east -| lI2.west);
\draw[ln] (lM1) -- (lS1);
\draw[ln] (lII1.north) |- (lS1) -| (lII7.north);
\foreach \p in {lII2,lII3,lII4,lII5,lII6} \draw[ln] (\p.north) -- (\p.north |- lS1);
\foreach \i in {1,...,5} \draw[ln] (lII\i.south) -- (lII\i.south |- lIII\i.north);
\draw[ln] (lII6.south) -- (lS6);
\draw[ln] (lIII6.north) |- (lS6) -| (lIII7.north);
\draw[pro] (lP0) -- (lP1);

\node[lbox] (boxM) at (101,3276.2) {M};
\node[ttl] (tM1) at (349.4,3267) {\textit{HNF4A} p.Arg163Ter};
\node[ttl] (tM2) at (354.5,3336) {PEDIGREE 23};
\node[gen] (mG1) at (99.5,3428.3) {I};
\node[gen] (mG2) at (102,3553.3) {II};
\node[gen] (mG3) at (103.6,3670) {III};
\node[gen] (mG4) at (102,3813.3) {IV};
\node[sqa] (mI1) at (296,3423.7) {};
\node[ci] (mI2) at (460,3423.4) {};
\node[cia] (mII1) at (241.8,3544) {};
\node[cia] (mII2) at (379.3,3544) {};
\node[ci] (mII3) at (515.8,3544.5) {};
\node[sq] (mIII1) at (227.8,3670.8) {};
\node[sqa] (mIII2) at (305.4,3670.8) {};
\node[cia] (mIII3) at (380.9,3670.8) {};
\node[sq] (mIII4) at (509,3670.8) {};
\node[cia] (mIII5) at (611,3670.8) {};
\node[sq] (mIV1) at (288.3,3813.4) {};
\node[sab] (mIV2) at (335.7,3794.3) {};
\node[ci] (mIV3) at (389.5,3811.3) {};
\node[sab] (mIV4) at (426,3796) {};
\node[sq] (mIV5) at (465.8,3813.8) {};
\node[ci] (mIV6) at (613.5,3811) {};
\node[nr] (mI1n) at (301.2,3388.7) {1};
\node[nr] (mI2n) at (460.4,3388.7) {2};
\node[nr] (mII1n) at (224.5,3515) {1};
\node[nr] (mII2n) at (363.3,3516) {2};
\node[nr] (mII3n) at (501,3515) {3};
\node[nr] (mIII1n) at (216.8,3637.3) {1};
\node[nr] (mIII2n) at (305.1,3637.3) {2};
\node[nr] (mIII3n) at (369.9,3637.3) {3};
\node[nr] (mIII4n) at (501.5,3637.3) {4};
\node[nr] (mIII5n) at (589.3,3637.3) {5};
\node[nr] (mIV1n) at (274,3778.3) {1};
\node[nr] (mIV2n) at (325,3778.3) {2};
\node[nr] (mIV3n) at (376,3778.3) {3};
\node[nr] (mIV4n) at (412.2,3778.3) {4};
\node[nr] (mIV5n) at (455.6,3778.3) {5};
\node[nr] (mIV6n) at (593.4,3778.3) {6};
\node[vb] (mI1b) at (251.5,3423.3) {42};
\node[vb] (mII1b) at (201.5,3548.3) {25};
\node[vb] (mII2b) at (415.8,3512.7) {53};
\node[vg] (mII2g) at (415.8,3543.3) {19};
\node[vr] (mII2r) at (415.8,3573.3) {MN};
\node[vb] (mII3b) at (553.6,3543.3) {50};
\node[vb] (mIII1b) at (182.7,3669.3) {35};
\node[vb] (mIII3b) at (419.4,3628.3) {33};
\node[vg] (mIII3g) at (419.4,3659.3) {9};
\node[vr] (mIII3r) at (419.4,3689.3) {MN};
\node[vg] (mIII5g) at (653,3670.7) {10};
\node[vb] (mIV1b) at (243.9,3813.3) {3m};
\node[vb] (mIV3b) at (358.7,3813.3) {9};
\node[vb] (mIV5b) at (510.2,3815) {2m};
\node[vb] (mIV6b) at (650.5,3812.3) {10};
\coordinate (mM1) at (377.6,3423.7);
\coordinate (mS1) at (377.6,3477.7);
\coordinate (mS2) at (377.6,3611.7);
\coordinate (mM3) at (345.4,3670.8);
\coordinate (mS3) at (345.4,3752.7);
\coordinate (mM4) at (464.3,3670.8);
\coordinate (mP0) at (345.9,3590.7);
\coordinate (mP1) at (362.2,3568.3);
\draw[slash] (mI1.center) +(-27,28) -- +(30.5,-31);
\draw[slash] (mI2.center) +(-26.3,26.6) -- +(29.8,-31.8);
\draw[slash] (mII1.center) +(-26.5,29.3) -- +(30,-29);
\draw[slash] (mIV1.center) +(-33.2,33.3) -- +(21.4,-21.7);
\draw[ln] (mI1.east) -- (mI1.east -| mI2.west);
\draw[ln] (mM1) -- (mS1);
\draw[ln] (mII1.north) |- (mS1) -| (mII3.north);
\draw[ln] (mII2.north) -- (mII2.north |- mS1);
\draw[ln] (mII2.south) -- (mS2);
\draw[ln] (mIII1.north) |- (mS2) -| (mIII5.north);
\draw[ln] (mIII3.north) -- (mIII3.north |- mS2);
\draw[ln] (mIII2.east) -- (mIII2.east -| mIII3.west);
\draw[ln] (mIII3.east) -- (mIII3.east -| mIII4.west);
\draw[ln] (mM3) -- (mS3);
\draw[ln] (mIV1.north) |- (mS3) -| (mIV4.center);
\draw[ln] (mIV2.center) -- (mIV2.center |- mS3);
\draw[ln] (mIV3.north) -- (mIV3.north |- mS3);
\draw[ln] (mM4) -- (mIV5.north);
\draw[ln] (mIII5.south) -- (mIII5.south |- mIV6.north);
\draw[pro] (mP0) -- (mP1);
\end{tikzpicture}
\end{document}
